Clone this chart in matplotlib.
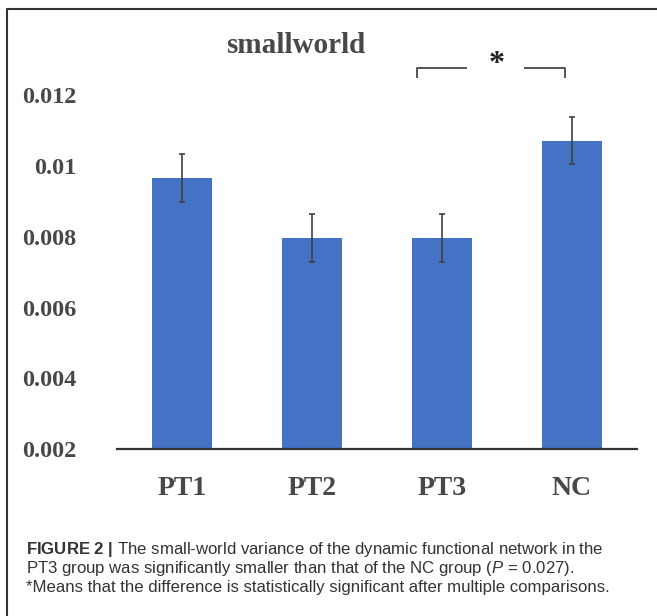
import numpy as np
import matplotlib
matplotlib.use("Agg")
import matplotlib.pyplot as plt
from matplotlib.lines import Line2D

plt.rcParams["font.family"] = "Liberation Serif"
plt.rcParams["mathtext.fontset"] = "custom"
plt.rcParams["mathtext.rm"] = "Liberation Sans"
plt.rcParams["mathtext.it"] = "Liberation Sans:italic"
plt.rcParams["mathtext.bf"] = "Liberation Sans:bold"

groups = ["PT1", "PT2", "PT3", "NC"]
means = [0.00965, 0.00796, 0.00796, 0.01071]
errors = [0.00068, 0.00068, 0.00068, 0.00067]
yticks = [0.002, 0.004, 0.006, 0.008, 0.01, 0.012]
ytick_labels = ["0.002", "0.004", "0.006", "0.008", "0.01", "0.012"]

bar_color = "#4472C4"
text_gray = "#484848"

fig = plt.figure(figsize=(6.57, 6.16), dpi=100)
ax = fig.add_axes([117 / 657, 1 - 449.3 / 616, 520 / 657, 354.3 / 616])

x = np.arange(len(groups))
ax.bar(x, [m - 0.002 for m in means], bottom=0.002, width=0.46, color=bar_color, zorder=2)
ax.errorbar(x, means, yerr=errors, fmt="none", ecolor="#404040",
            elinewidth=1.2, capsize=2, capthick=1.2, zorder=3)

ax.set_xlim(-0.5, 3.5)
ax.set_ylim(0.002, 0.012)
ax.set_xticks(x)
ax.set_xticklabels(groups, fontsize=20, fontweight="bold", color=text_gray)
ax.set_yticks(yticks)
ax.set_yticklabels(ytick_labels, fontsize=17.5, fontweight="bold", color=text_gray)
ax.tick_params(axis="both", length=0)
ax.tick_params(axis="x", pad=19)
ax.tick_params(axis="y", pad=29)
for side in ["top", "right", "left"]:
    ax.spines[side].set_visible(False)
ax.spines["bottom"].set_color("#333333")
ax.spines["bottom"].set_linewidth(1.6)

# significance bracket between PT3 and NC
b_left, b_right = x[2] - 0.19, x[3] - 0.055
b_top, b_low = 0.01277, 0.01252
b_mid = (b_left + b_right) / 2
ax.plot([b_left, b_left, b_mid - 0.19], [b_low, b_top, b_top], color="#555555",
        lw=1.4, clip_on=False)
ax.plot([b_mid + 0.26, b_right, b_right], [b_top, b_top, b_low], color="#555555",
        lw=1.4, clip_on=False)
ax.text(b_mid + 0.045, b_top + 0.0001, "*", ha="center", va="center", fontsize=23,
        fontweight="bold", color="#222222", clip_on=False)

fig.text(296 / 657, 1 - 53 / 616, "smallworld", ha="center", va="baseline",
         fontsize=21, fontweight="bold", color=text_gray)

# frame around the panel
fig.add_artist(Line2D([7 / 657, 7 / 657, 1.0], [0, 1 - 9 / 616, 1 - 9 / 616],
                      transform=fig.transFigure, color="#333333", lw=1.5))

caption_lines = [
    r"$\mathbf{FIGURE\ 2\ |}$ The small-world variance of the dynamic functional network in the",
    r"PT3 group was significantly smaller than that of the NC group ($\mathit{P}$ = 0.027).",
    r"*Means that the difference is statistically significant after multiple comparisons.",
]
for i, line in enumerate(caption_lines):
    fig.text(26 / 657, 1 - (554 + 19 * i) / 616, line, ha="left", va="baseline",
             fontsize=12.1, family="Liberation Sans", color="#333333")

fig.savefig("out.png", dpi=100)
